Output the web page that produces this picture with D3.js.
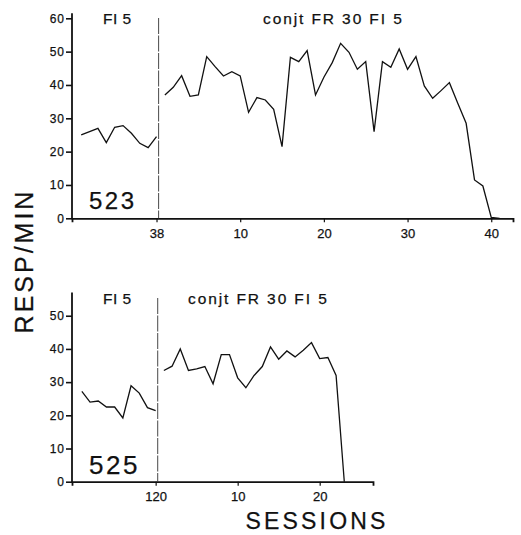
<!DOCTYPE html>
<html>
<head>
<meta charset="utf-8">
<script src="https://cdn.jsdelivr.net/npm/d3@7"></script>
<style>
  body { margin: 0; background: #fff; }
  svg { display: block; font-family: "Liberation Sans", Arial, sans-serif; }
  text { fill: #111; stroke: #111; stroke-width: 0.25px; }
</style>
</head>
<body>
<svg width="521" height="535"></svg>
<script>
// Subject 523: last FI 5 sessions, then conjt FR 30 FI 5 sessions
const fi523Sessions = [29, 30, 31, 32, 33, 34, 35, 36, 37, 38];
const fi523Rate = [25, 26, 27, 22.7, 27.3, 27.8, 25.5, 22.5, 21.2, 24.5];
const conj523Sessions = d3.range(1, 42);
const conj523Rate = [37, 39.3, 42.8, 36.6, 37, 48.5, 45.5, 42.7, 44, 42.7,
  31.8, 36.2, 35.5, 32.7, 21.5, 48.3, 47, 50.3, 37, 42.3,
  46.7, 52.5, 49.8, 44.7, 47, 26, 47, 45.3, 50.8, 44.7,
  48.5, 39.7, 36, 38.3, 40.7, 34.5, 28.5, 11.5, 9.7, 0.3, 0];

// Subject 525
const fi525Sessions = [111, 112, 113, 114, 115, 116, 117, 118, 119, 120];
const fi525Rate = [27.2, 24, 24.3, 22.5, 22.5, 19.2, 28.9, 26.7, 22.3, 21.4];
const conj525Sessions = d3.range(1, 24);
const conj525Rate = [33.5, 34.8, 40, 33.5, 34, 34.7, 29.5, 38.3, 38.3, 31.3,
  28.3, 32, 34.7, 40.6, 36.9, 39.4, 37.6, 39.6, 41.9, 37.1, 37.4, 32, 0];

// tick labels
const top523YTicks = [0, 10, 20, 30, 40, 50, 60];
const bot525YTicks = [0, 10, 20, 30, 40, 50];
const top523XTicks = [38, 10, 20, 30, 40];   // first is last FI session
const bot525XTicks = [120, 10, 20];

const svg = d3.select("svg");

function panel(opt) {
  const g = svg.append("g");
  // position: FI session s -> s - lastFI, conjt session n -> n
  const x = d3.scaleLinear().domain(opt.xDomain).range([72, opt.xRight]);
  const y = d3.scaleLinear().domain(opt.yDomain).range([opt.yBottom, opt.yTop]);
  const lastFI = opt.fiSessions[opt.fiSessions.length - 1];
  const pos = v => v.phase === "fi" ? v.s - lastFI : v.s;

  // y axis
  g.append("g")
      .attr("transform", "translate(72,0)")
      .call(d3.axisLeft(y).tickValues(opt.yTicks).tickSize(6).tickPadding(1))
      .call(a => a.select(".domain").remove())
      .call(a => a.selectAll(".tick line").attr("stroke", "#111").attr("stroke-width", 1.6))
      .call(a => a.selectAll(".tick text").style("font-size", "12px").style("letter-spacing", "1px"));
  g.append("line")
      .attr("x1", 72).attr("x2", 72)
      .attr("y1", y(0) + 1).attr("y2", opt.yTop)
      .attr("stroke", "#111").attr("stroke-width", 1.8);

  // x axis: mixed labels (last FI session, then conjt sessions)
  const xt = opt.xTicks.map((t, i) => ({ label: t, p: i === 0 ? 0 : t }));
  g.append("g")
      .attr("transform", `translate(0,${y(0)})`)
      .call(d3.axisBottom(x).tickValues(xt.map(d => d.p))
        .tickFormat((d, i) => xt[i].label).tickSize(4).tickPadding(6))
      .call(a => a.select(".domain").attr("stroke", "#111").attr("stroke-width", 1.8))
      .call(a => a.selectAll(".tick line").attr("stroke", "#111").attr("stroke-width", 1.2))
      .call(a => a.selectAll(".tick text").style("font-size", "13px"));

  // phase boundary
  g.append("line")
      .attr("x1", x(0.25)).attr("x2", x(0.25))
      .attr("y1", opt.dividerTop).attr("y2", y(0))
      .attr("stroke", "#333").attr("stroke-width", 0.9)
      .attr("stroke-dasharray", "16,1.5");

  const line = d3.line().x(d => x(pos(d))).y(d => y(d.r));
  const fiData = opt.fiSessions.map((s, i) => ({ phase: "fi", s, r: opt.fiRate[i] }));
  const cjData = opt.conjSessions.map((s, i) => ({ phase: "cj", s, r: opt.conjRate[i] }));
  [fiData, cjData].forEach(dat => {
    g.append("path")
        .datum(dat)
        .attr("d", line)
        .attr("fill", "none")
        .attr("stroke", "#111")
        .attr("stroke-width", 1.3)
        .attr("stroke-linejoin", "miter");
  });

  // phase labels and subject number
  g.append("text").attr("x", 103).attr("y", opt.labelY)
      .style("font-size", "15.5px").style("letter-spacing", "0.5px").text("FI 5");
  g.append("text").attr("x", opt.conjX).attr("y", opt.labelY)
      .style("font-size", "15.5px").style("letter-spacing", "1.9px").text("conjt FR 30 FI 5");
  g.append("text").attr("x", 89).attr("y", opt.subjY)
      .style("font-size", opt.subjSize + "px").style("letter-spacing", "2.5px").text(opt.subject);
}

panel({
  xDomain: [-10.1, 42.6], xRight: 513,
  yDomain: [0, 61.5], yBottom: 218.3, yTop: 13.3,
  yTicks: top523YTicks, xTicks: top523XTicks,
  fiSessions: fi523Sessions, fiRate: fi523Rate,
  conjSessions: conj523Sessions, conjRate: conj523Rate,
  dividerTop: 18, labelY: 23.5, conjX: 263,
  subject: "523", subjY: 208.5, subjSize: 24
});

panel({
  xDomain: [-10.2, 26.5], xRight: 373,
  yDomain: [0, 57], yBottom: 481.7, yTop: 292.5,
  yTicks: bot525YTicks, xTicks: bot525XTicks,
  fiSessions: fi525Sessions, fiRate: fi525Rate,
  conjSessions: conj525Sessions, conjRate: conj525Rate,
  dividerTop: 298, labelY: 303.5, conjX: 188,
  subject: "525", subjY: 474, subjSize: 26
});

// axis titles
svg.append("text")
    .attr("transform", "translate(33,261) rotate(-90)")
    .attr("text-anchor", "middle")
    .style("font-size", "25px").style("letter-spacing", "3px")
    .text("RESP/MIN");
svg.append("text")
    .attr("x", 317).attr("y", 529)
    .attr("text-anchor", "middle")
    .style("font-size", "23px").style("letter-spacing", "3.2px")
    .text("SESSIONS");
</script>
</body>
</html>
